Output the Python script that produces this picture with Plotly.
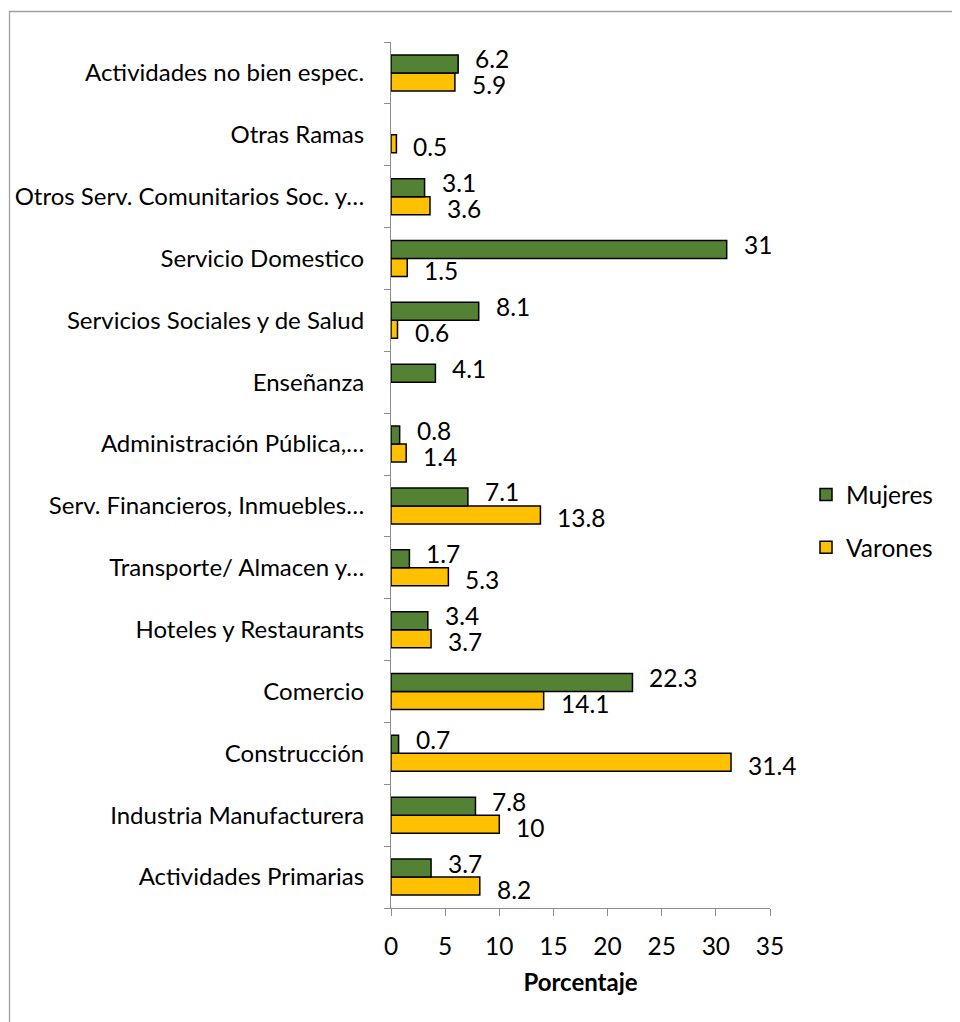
import plotly.graph_objects as go

# ---- data (bottom-to-top category order) ----
categories = [
    "Actividades Primarias",
    "Industria Manufacturera",
    "Construcción",
    "Comercio",
    "Hoteles y Restaurants",
    "Transporte/ Almacen y…",
    "Serv. Financieros, Inmuebles…",
    "Administración Pública,…",
    "Enseñanza",
    "Servicios Sociales y de Salud",
    "Servicio Domestico",
    "Otros Serv. Comunitarios Soc. y…",
    "Otras Ramas",
    "Actividades no bien espec.",
]
mujeres = [3.7, 7.8, 0.7, 22.3, 3.4, 1.7, 7.1, 0.8, 4.1, 8.1, 31, 3.1, None, 6.2]
varones = [8.2, 10, 31.4, 14.1, 3.7, 5.3, 13.8, 1.4, None, 0.6, 1.5, 3.6, 0.5, 5.9]
x_ticks = [0, 5, 10, 15, 20, 25, 30, 35]

# ---- style ----
FONT = "Lato, 'Open Sans', sans-serif"
FS = 24
GREEN = "#548235"
YELLOW = "#FFC000"
AXIS = "#8C8C8C"

OFF = 8  # default page body margin
W, H = 960 - OFF, 1022 - OFF
L, R, T, B = 391 - OFF, 770 - OFF, 42 - OFF, 908 - OFF  # plot area in figure pixels

fig = go.Figure()
fig.add_trace(go.Bar(
    name="Varones", y=categories, x=varones, orientation="h",
    marker=dict(color=YELLOW, line=dict(color="black", width=1.5)),
    legendgroup="v", legendrank=2, hoverinfo="x+y",
))
fig.add_trace(go.Bar(
    name="Mujeres", y=categories, x=mujeres, orientation="h",
    marker=dict(color=GREEN, line=dict(color="black", width=1.5)),
    legendgroup="m", legendrank=1, hoverinfo="x+y",
))

# data labels
annotations = []
for vals, ysh in ((mujeres, 9 + 5), (varones, -9 - 3)):
    for c, v in zip(categories, vals):
        if v is None:
            continue
        annotations.append(dict(
            x=v, y=c, xref="x", yref="y", text=f"{v:g}", showarrow=False,
            xanchor="left", yanchor="middle", xshift=15, yshift=ysh,
            font=dict(family=FONT, size=FS + 0.5, color="black"),
        ))

pw, ph = R - L, B - T
def px_x(p):
    return (p - OFF - L) / pw
def px_y(p):
    return (B - (p - OFF)) / ph

fig.update_layout(
    width=W, height=H,
    margin=dict(l=L, r=W - R, t=T, b=H - B, autoexpand=False),
    paper_bgcolor="white", plot_bgcolor="white",
    barmode="group", bargap=0.418, bargroupgap=0,
    font=dict(family=FONT, size=FS, color="black"),
    showlegend=True,
    legend=dict(
        x=px_x(806), y=px_y(521), xanchor="left", yanchor="middle",
        traceorder="grouped", tracegroupgap=18,
        font=dict(family=FONT, size=FS + 0.5, color="black"),
        bgcolor="rgba(0,0,0,0)",
    ),
    annotations=annotations,
    shapes=[dict(
        type="rect", xref="paper", yref="paper",
        x0=px_x(9.5), x1=px_x(975), y0=px_y(1040), y1=px_y(11.5),
        line=dict(color="#A0A0A0", width=1.3), fillcolor="rgba(0,0,0,0)",
        layer="below",
    )],
    xaxis=dict(
        range=[0, 35], tickvals=x_ticks, ticktext=[str(t) for t in x_ticks],
        showgrid=False, zeroline=False,
        showline=True, linecolor=AXIS, linewidth=1,
        ticks="outside", ticklen=7, tickcolor=AXIS, tickwidth=1,
        ticklabelstandoff=10,
        tickfont=dict(family=FONT, size=FS + 0.5, color="black"),
        title=dict(text="<b>Porcentaje</b>", standoff=14,
                   font=dict(family=FONT, size=FS, color="black")),
        automargin=False,
    ),
    yaxis=dict(
        type="category", categoryorder="array", categoryarray=categories,
        showgrid=False, zeroline=False,
        showline=True, linecolor=AXIS, linewidth=1,
        ticks="outside", ticklen=6, tickcolor=AXIS, tickwidth=1,
        tickson="boundaries", ticklabelstandoff=21,
        tickfont=dict(family=FONT, size=FS, color="black"),
        automargin=False,
    ),
)

fig.write_html("out.html")
